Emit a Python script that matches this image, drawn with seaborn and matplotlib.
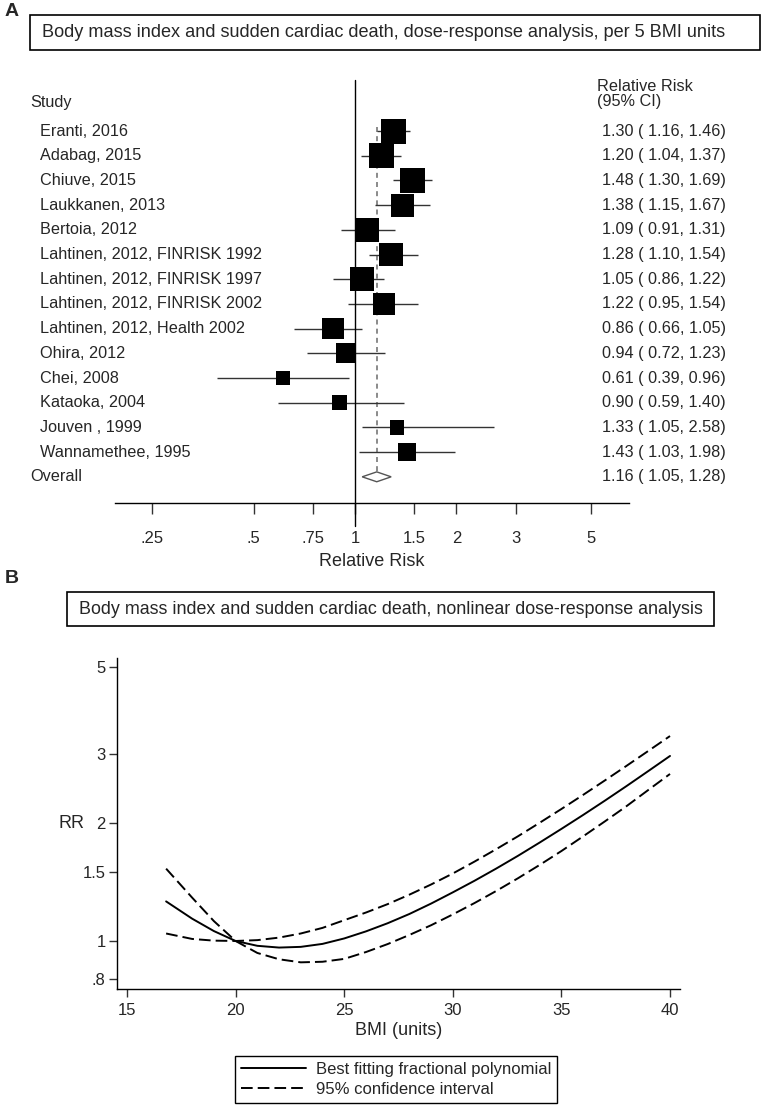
import numpy as np
import pandas as pd
import matplotlib
matplotlib.use("Agg")
import matplotlib.pyplot as plt
import matplotlib.transforms as mtransforms
from matplotlib.patches import Rectangle, Polygon
from matplotlib.ticker import NullLocator
import seaborn as sns

# ---- panel A data (forest plot, RR per 5 BMI units) ----
studies = ["Eranti, 2016", "Adabag, 2015", "Chiuve, 2015", "Laukkanen, 2013",
           "Bertoia, 2012", "Lahtinen, 2012, FINRISK 1992", "Lahtinen, 2012, FINRISK 1997",
           "Lahtinen, 2012, FINRISK 2002", "Lahtinen, 2012, Health 2002", "Ohira, 2012",
           "Chei, 2008", "Kataoka, 2004", "Jouven , 1999", "Wannamethee, 1995"]
rr = [1.30, 1.20, 1.48, 1.38, 1.09, 1.28, 1.05, 1.22, 0.86, 0.94, 0.61, 0.90, 1.33, 1.43]
ci_low = [1.16, 1.04, 1.30, 1.15, 0.91, 1.10, 0.86, 0.95, 0.66, 0.72, 0.39, 0.59, 1.05, 1.03]
ci_high = [1.46, 1.37, 1.69, 1.67, 1.31, 1.54, 1.22, 1.54, 1.05, 1.23, 0.96, 1.40, 2.58, 1.98]
weights = [9.8, 9.6, 9.8, 8.3, 8.8, 9.0, 8.8, 7.1, 7.4, 6.3, 3.2, 3.7, 3.2, 5.1]
overall = (1.16, 1.05, 1.28)
rr_ticks = [0.25, 0.5, 0.75, 1, 1.5, 2, 3, 5]
rr_tick_labels = [".25", ".5", ".75", "1", "1.5", "2", "3", "5"]

# ---- panel B data (nonlinear dose-response) ----
bmi = [16.8, 18, 19, 20, 21, 22, 23, 24, 25, 26, 27, 28, 29, 30,
       31, 32, 33, 34, 35, 36, 37, 38, 39, 40]
rr_fit = [1.262, 1.14, 1.06, 1.00, 0.972, 0.962, 0.966, 0.983, 1.015, 1.058, 1.110, 1.172, 1.246, 1.331,
          1.425, 1.531, 1.650, 1.784, 1.933, 2.098, 2.282, 2.487, 2.716, 2.968]
rr_upper = [1.045, 1.012, 1.002, 1.00, 1.005, 1.02, 1.045, 1.08, 1.13, 1.182, 1.242, 1.313, 1.394, 1.487,
            1.595, 1.716, 1.851, 2.004, 2.173, 2.361, 2.570, 2.801, 3.057, 3.337]
rr_lower = [1.53, 1.29, 1.124, 1.00, 0.932, 0.898, 0.882, 0.885, 0.90, 0.937, 0.982, 1.036, 1.097, 1.169,
            1.25, 1.342, 1.446, 1.564, 1.697, 1.85, 2.02, 2.21, 2.43, 2.67]
rr_b_ticks = [0.8, 1, 1.5, 2, 3, 5]
rr_b_labels = [".8", "1", "1.5", "2", "3", "5"]
bmi_ticks = [15, 20, 25, 30, 35, 40]

sns.set_theme(style="white")
plt.rcParams["font.family"] = ["Liberation Sans", "DejaVu Sans"]

W, H = 767, 1111
fig = plt.figure(figsize=(W / 100, H / 100), dpi=100)


def fbox(l, t, r, b):
    return [l / W, 1 - b / H, (r - l) / W, (b - t) / H]


def title_box(l, t, r, b, text, tx, size):
    fig.patches.append(Rectangle((l / W, 1 - b / H), (r - l) / W, (b - t) / H,
                                 transform=fig.transFigure, fill=False, ec="black", lw=1.2))
    fig.text(tx / W, 1 - (t + b) / 2 / H, text, ha="left", va="center", fontsize=size)


# ================= panel A =================
fig.text(5 / W, 1 - 3 / H, "A", fontsize=14, fontweight="bold", va="top", ha="left")
title_box(30, 15, 760, 50,
          "Body mass index and sudden cardiac death, dose-response analysis, per 5 BMI units",
          42, 13.1)

axA = fig.add_axes(fbox(115, 80, 629, 503))
rows = np.arange(len(studies))
n = len(studies)
df = pd.DataFrame({"rr": rr, "row": rows, "w": weights})

axA.hlines(rows, ci_low, ci_high, color="#333333", lw=1)
k = (25 * 0.72) ** 2 / max(weights)
sns.scatterplot(data=df, x="rr", y="row", size="w",
                sizes=(k * min(weights), k * max(weights)), marker="s",
                color="black", linewidth=0, legend=False, ax=axA, zorder=3)

est, lo, hi = overall
axA.plot([est, est], [-0.15, n - 0.2], ls=(0, (3, 2.5)), color="#777777", lw=1.2, zorder=1)
axA.add_patch(Polygon([(lo, n), (est, n - 0.2), (hi, n), (est, n + 0.2)],
                      closed=True, fc="white", ec="#555555", lw=1, zorder=4))
axA.plot([1, 1], [-2.07, 16.0], color="black", lw=1, clip_on=False, zorder=2)

axA.set_xscale("log")
axA.set_xlim(0.194, 6.5)
axA.set_ylim(15.06, -2.065)
axA.xaxis.set_minor_locator(NullLocator())
axA.set_xticks(rr_ticks)
axA.set_xticklabels(rr_tick_labels)
axA.set_yticks([])
axA.tick_params(axis="x", direction="out", length=8, width=1, color="#333333",
                pad=12, labelsize=12, bottom=True)
axA.set_xlabel("Relative Risk", fontsize=13, labelpad=5)
for s in ["left", "top", "right"]:
    axA.spines[s].set_visible(False)
axA.spines["bottom"].set_color("black")
axA.spines["bottom"].set_linewidth(1)
axA.set_ylabel("")

fs = 11.7
trans = mtransforms.blended_transform_factory(fig.transFigure, axA.transData)
axA.text(30 / W, -1.17, "Study", transform=trans, fontsize=fs, va="center")
axA.text(597 / W, -1.5, "Relative Risk\n(95% CI)", transform=trans, fontsize=fs,
         va="center", linespacing=0.95)
for i, name in enumerate(studies):
    axA.text(40 / W, i, name, transform=trans, fontsize=fs, va="center")
    axA.text(602 / W, i, f"{rr[i]:.2f} ( {ci_low[i]:.2f}, {ci_high[i]:.2f})",
             transform=trans, fontsize=fs, va="center")
axA.text(30 / W, n, "Overall", transform=trans, fontsize=fs, va="center")
axA.text(602 / W, n, f"{est:.2f} ( {lo:.2f}, {hi:.2f})", transform=trans,
         fontsize=fs, va="center")

# ================= panel B =================
fig.text(5 / W, 1 - 570 / H, "B", fontsize=14, fontweight="bold", va="top", ha="left")
title_box(67, 592, 714, 626,
          "Body mass index and sudden cardiac death, nonlinear dose-response analysis",
          79, 12.9)

axB = fig.add_axes(fbox(116.7, 658, 680, 989))
curves = pd.DataFrame({"bmi": bmi, "fit": rr_fit, "upper": rr_upper, "lower": rr_lower})
dash = (0, (6, 2.6))
sns.lineplot(data=curves, x="bmi", y="fit", color="black", lw=1.4, ax=axB,
             label="Best fitting fractional polynomial")
sns.lineplot(data=curves, x="bmi", y="upper", color="black", lw=1.4, ax=axB,
             ls=dash, label="95% confidence interval")
sns.lineplot(data=curves, x="bmi", y="lower", color="black", lw=1.4, ax=axB, ls=dash)
axB.set_yscale("log")
axB.set_ylim(0.754, 5.28)
axB.set_xlim(14.525, 40.46)
axB.yaxis.set_minor_locator(NullLocator())
axB.set_yticks(rr_b_ticks)
axB.set_yticklabels(rr_b_labels)
axB.set_xticks(bmi_ticks)
axB.tick_params(axis="both", direction="out", length=6, width=1, color="#333333",
                labelsize=12, left=True, bottom=True)
axB.tick_params(axis="y", pad=2)
axB.tick_params(axis="x", pad=4)
for s in ["top", "right"]:
    axB.spines[s].set_visible(False)
for s in ["left", "bottom"]:
    axB.spines[s].set_color("black")
    axB.spines[s].set_linewidth(1)
axB.set_xlabel("BMI (units)", fontsize=13, labelpad=3)
axB.set_ylabel("RR", fontsize=13, rotation=0, va="center", ha="center")
axB.yaxis.set_label_coords(-0.081, 0.5)

axB.legend(loc="upper left", bbox_to_anchor=(235 / W, 1 - 1056 / H),
           bbox_transform=fig.transFigure, frameon=True, fancybox=False,
           edgecolor="black", fontsize=12, handlelength=3.9, handletextpad=0.6,
           borderpad=0.35, labelspacing=0.3, borderaxespad=0, framealpha=1)
axB.get_legend().get_frame().set_linewidth(1)

fig.savefig("out.png", dpi=100)
